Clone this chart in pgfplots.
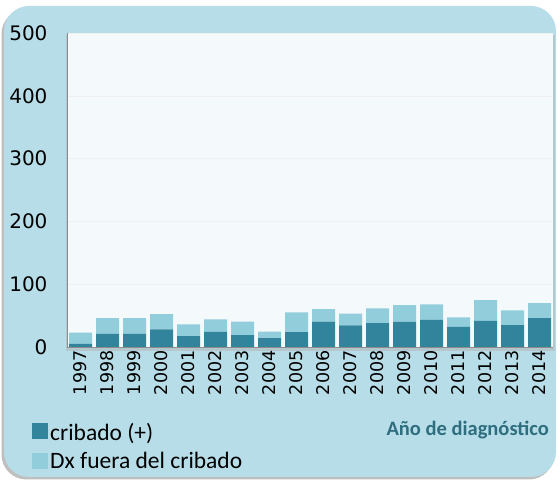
\documentclass[border=0pt]{standalone}
\usepackage{pgfplots}
\pgfplotsset{compat=1.18}
\usepackage{fontspec}
\setmainfont{Carlito}
\newfontfamily\dejavu{DejaVu Sans}

\definecolor{bgblue}{HTML}{B7DEE8}
\definecolor{plotbg}{HTML}{F4FAFB}
\definecolor{darkbar}{HTML}{31849B}
\definecolor{lightbar}{HTML}{92CDDC}
\definecolor{titleteal}{HTML}{2E6E7E}

\pgfplotstableread{
x year dark light
0 1997 5 18
1 1998 21 25
2 1999 21 25
3 2000 28 24.5
4 2001 17.5 18.5
5 2002 24 20
6 2003 19 21.5
7 2004 14 10.5
8 2005 23.5 31.5
9 2006 40.5 20
10 2007 34.5 18.5
11 2008 38 23.5
12 2009 40 26.5
13 2010 43 25
14 2011 32 15
15 2012 41.5 33
16 2013 35 23.5
17 2014 46 24
}\casos

\begin{document}
\begin{tikzpicture}
  \path[use as bounding box] (0,0) rectangle (560pt,481pt);
  % panel with soft shadow
  \fill[black!25, rounded corners=25pt] (1.5pt,1.5pt) rectangle (554pt,472pt);
  \fill[bgblue, rounded corners=25pt] (4pt,4pt) rectangle (556pt,475pt);
  % plot area shadow
  \fill[black!30, opacity=0.5] (66pt,130pt) rectangle (555pt,446pt);

  \begin{axis}[
      at={(67pt,134pt)}, anchor=south west,
      scale only axis,
      width=486pt, height=314pt,
      axis background/.style={fill=plotbg},
      ybar stacked,
      bar width=23pt,
      xmin=-0.5, xmax=17.5,
      ymin=0, ymax=500,
      ytick={0,100,...,500},
      xtick=data,
      xticklabels from table={\casos}{year},
      major tick length=0pt,
      axis lines*=left,
      axis line style={draw=black!45, line width=0.8pt},
      ymajorgrids,
      grid style={draw=black!6, line width=0.5pt},
      /pgf/number format/assume math mode=true,
      yticklabel style={font=\dejavu\fontsize{20}{20}\selectfont, xshift=-16pt},
      xticklabel style={font=\dejavu\fontsize{17.5}{17.5}\selectfont, rotate=90, anchor=east},
      xlabel={Año de diagnóstico},
      xlabel style={at={(axis description cs:0.992,-0.265)}, anchor=east, inner sep=0pt,
                    font=\bfseries\fontsize{20.5}{20.5}\selectfont, text=titleteal},
      legend style={at={(axis description cs:-0.072,-0.235)}, anchor=north west,
                    draw=none, fill=none, inner sep=0pt,
                    font=\fontsize{23.5}{23.5}\selectfont,
                    row sep=7pt, legend cell align=left},
      legend image code/.code={\fill[#1] (0pt,-7pt) rectangle (16pt,9pt);},
    ]
    \addplot[fill=darkbar, draw=none] table[x=x, y=dark] {\casos};
    \addlegendentry{cribado (+)}
    \addplot[fill=lightbar, draw=none] table[x=x, y=light] {\casos};
    \addlegendentry{Dx fuera del cribado}
  \end{axis}
\end{tikzpicture}
\end{document}
